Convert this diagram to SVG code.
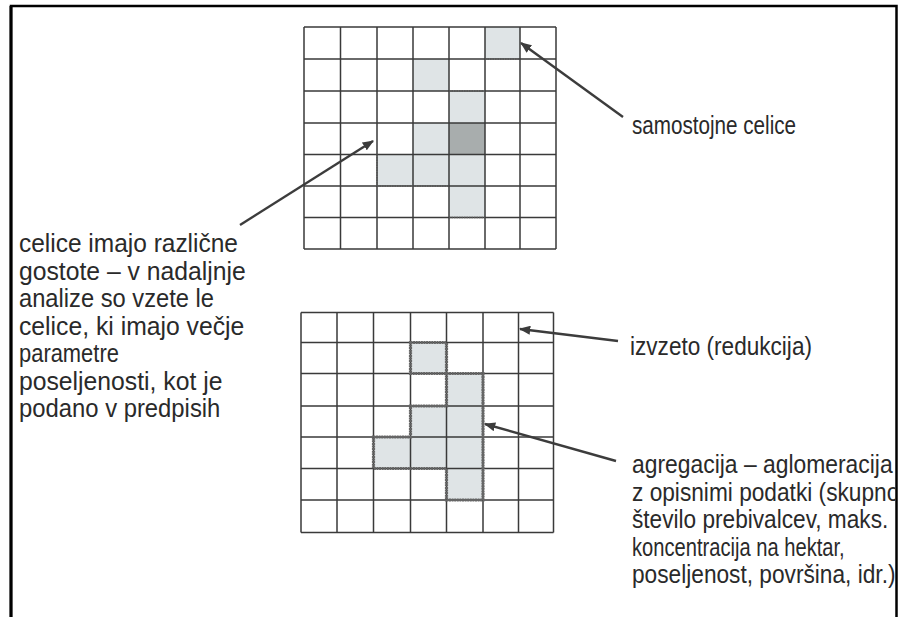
<svg xmlns="http://www.w3.org/2000/svg" width="900" height="617" viewBox="0 0 900 617">
  <style>
    .grid { fill: none; stroke: #3a3a3a; stroke-width: 1.5; }
    .cell { fill: #dfe4e6; stroke: none; }
    .cell-dark { fill: #a8adad; stroke: none; }
    .dots { fill: none; stroke: #555; stroke-width: 1.6; stroke-dasharray: 1.5 1; }
    .agg { fill: none; stroke: #666; stroke-width: 3.2; stroke-linejoin: miter; stroke-dasharray: 2 0.6; }
    .frame { fill: none; stroke: #000; }
    .label { font-family: "Liberation Sans", Arial, sans-serif; font-size: 25.5px; fill: #2a2a2a; }
    .conn { fill: none; stroke: #3c3c3c; stroke-width: 2.4; marker-end: url(#arrow); }
  </style>
  <defs>
    <marker id="arrow" viewBox="0 0 10 8" refX="9" refY="4" markerWidth="4.8" markerHeight="3.8" orient="auto" markerUnits="strokeWidth">
      <path d="M0,0 L10,4 L0,8 z" fill="#3c3c3c"/>
    </marker>
    <!-- the page's right rule trims the longest lines -->
    <clipPath id="page" clipPathUnits="userSpaceOnUse">
      <rect x="0" y="0" width="895.5" height="617"/>
    </clipPath>
  </defs>

  <rect width="900" height="617" fill="#fff"/>

  <!-- page frame: top, left and right rules -->
  <g id="frame">
    <path class="frame" d="M11,617 V6 H896.5 V617" stroke-width="2.5"/>
    <line x1="11" y1="6" x2="11" y2="617" stroke="#000" stroke-width="3"/>
  </g>

  <!-- upper raster: cells of differing density -->
  <g id="grid-top">
    <rect class="cell" x="485" y="27" width="35" height="32"/>
    <rect class="cell" x="413" y="59" width="36" height="32"/>
    <rect class="cell" x="449" y="91" width="36" height="32"/>
    <rect class="cell" x="413" y="123" width="36" height="31.5"/>
    <rect class="cell-dark" x="449" y="123" width="36" height="31.5"/>
    <rect class="cell" x="377" y="154.5" width="108" height="31.5"/>
    <rect class="cell" x="449" y="186" width="36" height="31.5"/>
    <path class="grid" d="M304,27 V249 M340.5,27 V249 M377,27 V249 M413,27 V249 M449,27 V249 M485,27 V249 M520,27 V249 M556,27 V249
                          M304,27 H556 M304,59 H556 M304,91 H556 M304,123 H556 M304,154.5 H556 M304,186 H556 M304,217.5 H556 M304,249 H556"/>
    <path class="dots" d="M485,59 H520 M449,91 H485 M377,186 H449 M377,154.5 V186 M449,217.5 H485"/>
  </g>

  <!-- lower raster: reduced and aggregated cells -->
  <g id="grid-bottom">
    <rect class="cell" x="410.5" y="342.5" width="36" height="31"/>
    <rect class="cell" x="446.5" y="373.5" width="36.5" height="32.5"/>
    <rect class="cell" x="410.5" y="406" width="72.5" height="31"/>
    <rect class="cell" x="373.5" y="437" width="109.5" height="31.5"/>
    <rect class="cell" x="446.5" y="468.5" width="36.5" height="31.5"/>
    <path class="grid" d="M301,312.5 V532.5 M337,312.5 V532.5 M373.5,312.5 V532.5 M410.5,312.5 V532.5 M446.5,312.5 V532.5 M483,312.5 V532.5 M518.5,312.5 V532.5 M553.5,312.5 V532.5
                          M301,312.5 H553.5 M301,342.5 H553.5 M301,373.5 H553.5 M301,406 H553.5 M301,437 H553.5 M301,468.5 H553.5 M301,500 H553.5 M301,532.5 H553.5"/>
    <rect class="agg" x="410.5" y="342.5" width="36" height="31"/>
    <path class="agg" d="M446.5,373.5 H483 V500 H446.5 V468.5 H373.5 V437 H410.5 V406 H446.5 Z"/>
  </g>

  <!-- leader lines -->
  <g id="connectors">
    <line class="conn" x1="623" y1="117" x2="521" y2="43"/>
    <line class="conn" x1="240" y1="225" x2="373" y2="141"/>
    <line class="conn" x1="618" y1="341" x2="520" y2="329"/>
    <line class="conn" x1="616" y1="461" x2="485" y2="424"/>
  </g>

  <!-- condensed lettering: each line narrowed horizontally only -->
  <g id="label-density">
    <text class="label" transform="translate(19,252) scale(0.96,1)">celice imajo različne</text>
    <text class="label" transform="translate(19,279.5) scale(0.97,1)">gostote – v nadaljnje</text>
    <text class="label" transform="translate(19,307) scale(0.93,1)">analize so vzete le</text>
    <text class="label" transform="translate(19,334.5) scale(0.97,1)">celice, ki imajo večje</text>
    <text class="label" transform="translate(19,362) scale(0.86,1)">parametre</text>
    <text class="label" transform="translate(19,389.5) scale(0.97,1)">poseljenosti, kot je</text>
    <text class="label" transform="translate(19,417) scale(0.935,1)">podano v predpisih</text>
  </g>

  <g id="label-single">
    <text class="label" transform="translate(632,134) scale(0.81,1)">samostojne celice</text>
  </g>

  <g id="label-reduction">
    <text class="label" transform="translate(630,355) scale(0.886,1)">izvzeto (redukcija)</text>
  </g>

  <g id="label-aggregation">
    <text class="label" transform="translate(632,473) scale(0.897,1)">agregacija – aglomeracija</text>
    <g clip-path="url(#page)">
      <text class="label" transform="translate(632,500.5) scale(0.89,1)">z opisnimi podatki (skupno</text>
    </g>
    <text class="label" transform="translate(632,528) scale(0.888,1)">število prebivalcev, maks.</text>
    <text class="label" transform="translate(632,555.5) scale(0.79,1)">koncentracija na hektar,</text>
    <g clip-path="url(#page)">
      <text class="label" transform="translate(632,583) scale(0.89,1)">poseljenost, površina, idr.)</text>
    </g>
  </g>
</svg>
